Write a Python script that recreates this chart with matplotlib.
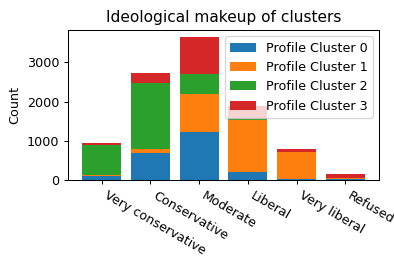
import matplotlib
matplotlib.use("Agg")
import matplotlib.pyplot as plt
import numpy as np

categories = ["Very conservative", "Conservative", "Moderate", "Liberal", "Very liberal", "Refused"]
cluster0 = [110, 688, 1224, 208, 25, 17]
cluster1 = [26, 102, 969, 1322, 690, 43]
cluster2 = [756, 1683, 510, 26, 5, 2]
cluster3 = [51, 255, 944, 323, 68, 100]
series_names = ["Profile Cluster 0", "Profile Cluster 1", "Profile Cluster 2", "Profile Cluster 3"]
colors = ["#1f77b4", "#ff7f0e", "#2ca02c", "#d62728"]

DPI = 92
fig = plt.figure(figsize=(394/DPI, 256/DPI), dpi=DPI)
ax = fig.add_axes([68/394, 1-180/256, (379-68)/394, 150/256])
x = np.arange(len(categories))
bottom = np.zeros(len(categories))
for vals, name, c in zip([cluster0, cluster1, cluster2, cluster3], series_names, colors):
    ax.bar(x, vals, 0.8, bottom=bottom, label=name, color=c)
    bottom += np.array(vals)
ax.set_xticks(x)
ax.set_xticklabels(categories, rotation=-30, ha="left")
ax.set_ylabel("Count")
ax.set_title("Ideological makeup of clusters")
ax.legend(loc="upper right")
fig.savefig("out.png", dpi=DPI)
